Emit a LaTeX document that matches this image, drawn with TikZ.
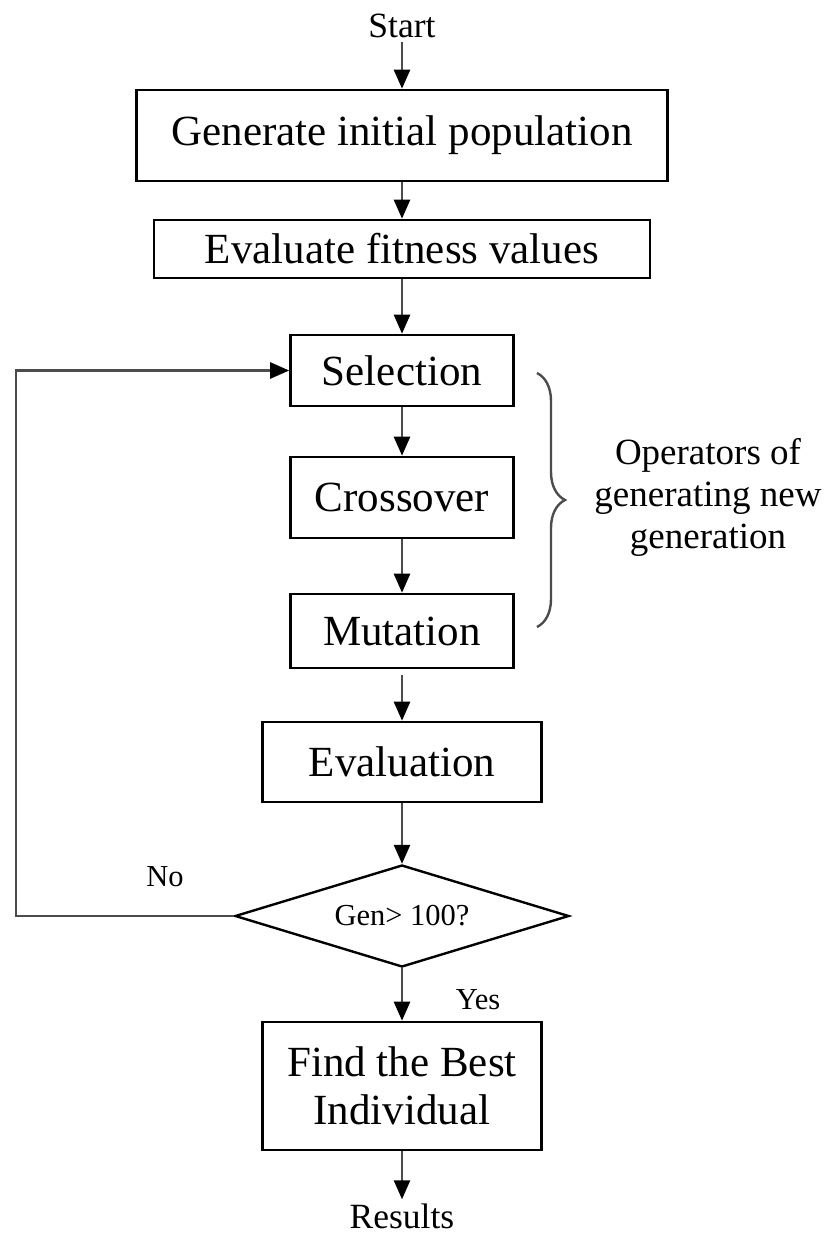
\documentclass[tikz,border=0pt]{standalone}
\usepackage{fontspec}
\setmainfont{Liberation Serif}
\usetikzlibrary{arrows.meta,shapes.geometric,decorations.pathreplacing}
\begin{document}
\begin{tikzpicture}[x=1pt,y=-1pt,
  procbox/.style={draw=black,line width=2.6pt,inner sep=0pt,align=center,
    font=\fontsize{43}{48}\selectfont},
  decision/.style={diamond,draw=black,line width=2.4pt,inner sep=0pt,aspect=3.3,
    font=\fontsize{30.5}{34}\selectfont},
  endtext/.style={inner sep=4pt,font=\fontsize{35.5}{40}\selectfont},
  smalltext/.style={inner sep=0pt,font=\fontsize{30.5}{34}\selectfont},
  flow/.style={draw=black!70,line width=2.6pt,
    -{Triangle[width=16pt,length=19pt,color=black]}},
  bracket/.style={draw=black!70,line width=2.4pt,
    decorate,decoration={brace,amplitude=28pt}}]
\useasboundingbox (0,0) rectangle (826,1236);

% terminals and process steps
\node[endtext] (start) at (402,26) {Start};
\node[procbox,minimum width=531pt,minimum height=91pt] (init) at (402,135.5) {Generate initial population};
\node[procbox,minimum width=496pt,minimum height=58pt] (fit) at (402,249) {Evaluate fitness values};
\node[procbox,minimum width=223pt,minimum height=71pt] (sel) at (402,370.5) {Selection};
\node[procbox,minimum width=223pt,minimum height=81pt] (cross) at (402,497.5) {Crossover};
\node[procbox,minimum width=223pt,minimum height=74pt] (mut) at (402,631) {Mutation};
\node[procbox,minimum width=279pt,minimum height=80pt] (eval) at (402,762) {Evaluation};
\node[decision,minimum width=334pt,minimum height=102pt] (gen) at (402,916) {Gen> 100?};
\node[procbox,minimum width=279pt,minimum height=128pt] (best) at (402,1086) {Find the Best\\Individual};
\node[endtext] (res) at (402,1216) {Results};

% labels
\node[smalltext] (no) at (165,877) {No};
\node[smalltext] (yes) at (478,1000) {Yes};
\node[align=center,inner sep=0pt,font=\fontsize{37}{42}\selectfont] (ops) at (708,497) {Operators of\\generating new\\generation};

% main flow
\draw[flow] (start) -- (init);
\draw[flow] (init) -- (fit);
\draw[flow] (fit) -- (sel);
\draw[flow] (sel) -- (cross);
\draw[flow] (cross) -- (mut);
\draw[flow,shorten <=6pt] (mut) -- (eval);
\draw[flow] (eval) -- (gen.north);
\draw[flow] (gen.south) -- (best);
\draw[flow] (best) -- (res);

% loop back to selection
\coordinate (loop) at (16,916);
\draw[flow] (gen.west) -- (loop) |- (sel.west);

% brace grouping the genetic operators
\coordinate (bt) at (537,373);
\coordinate (bb) at (537,627);
\draw[bracket] (bt) -- (bb);
\end{tikzpicture}
\end{document}
